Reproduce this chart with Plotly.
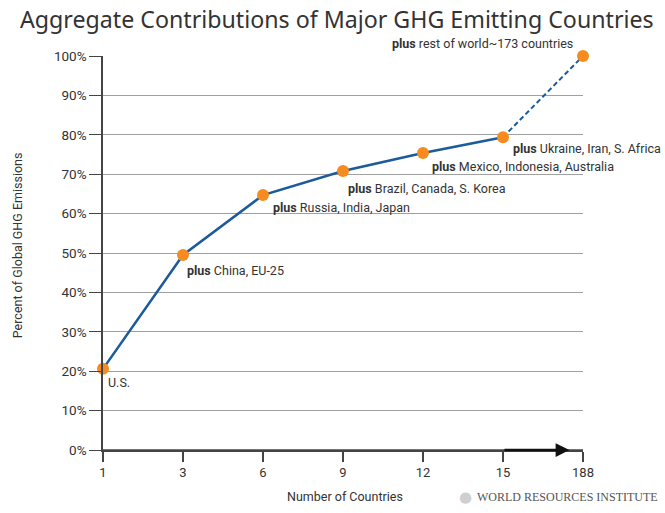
import plotly.graph_objects as go

countries = ["1", "3", "6", "9", "12", "15", "188"]
share = [20.6, 49.5, 64.7, 70.8, 75.4, 79.4, 100.0]
labels = ["U.S.", "<b>plus</b> China, EU-25", "<b>plus</b> Russia, India, Japan",
          "<b>plus</b> Brazil, Canada, S. Korea", "<b>plus</b> Mexico, Indonesia, Australia",
          "<b>plus</b> Ukraine, Iran, S. Africa", "<b>plus</b> rest of world~173 countries"]
y_ticks = [0, 10, 20, 30, 40, 50, 60, 70, 80, 90, 100]

NARROW = "Roboto, sans-serif"
TXT = "#333333"
BLUE = "#1b5b9b"
ORANGE = "#f68b1f"

fig = go.Figure()
fig.add_trace(go.Scatter(x=countries[:6], y=share[:6], mode="lines",
                         line=dict(color=BLUE, width=2.5), hoverinfo="skip", cliponaxis=False))
fig.add_trace(go.Scatter(x=countries[5:], y=share[5:], mode="lines",
                         line=dict(color=BLUE, width=2, dash="5px,3px"), hoverinfo="skip", cliponaxis=False))
fig.add_trace(go.Scatter(x=countries, y=share, mode="markers",
                         marker=dict(color=ORANGE, size=12), cliponaxis=False))

# label offsets (px): xanchor, yanchor, xshift, yshift
offs = [("left", "top", 3, -4), ("left", "top", 2, -6), ("left", "top", 8, -3),
        ("left", "top", 3, -8), ("left", "top", 7, -4), ("left", "top", 8, -2),
        ("right", "bottom", -8, 3)]
for i, (v, t, (xa, ya, xs, ys)) in enumerate(zip(share, labels, offs)):
    fig.add_annotation(x=i, y=v, text=t, showarrow=False, xanchor=xa, yanchor=ya,
                       xshift=xs, yshift=ys, font=dict(family=NARROW, size=12.5, color=TXT))

# arrow along x-axis
fig.add_annotation(x=5.83, y=0, ax=5.0, ay=0, axref="x", ayref="y", xref="x", yref="y",
                   text="", showarrow=True, arrowhead=2, arrowsize=1.1, arrowwidth=2.5,
                   arrowcolor="#111111")

fig.add_annotation(text="Aggregate Contributions of Major GHG Emitting Countries",
                   xref="paper", yref="paper", x=-0.177, y=1.093, xanchor="left", yanchor="middle",
                   showarrow=False, font=dict(family="Noto Sans, sans-serif", size=23.2, color=TXT))

fig.add_annotation(text="Percent of Global GHG Emissions", textangle=-90,
                   xref="paper", yref="paper", x=-0.179, y=0.52, xanchor="center", yanchor="middle",
                   showarrow=False, font=dict(family=NARROW, size=12.5, color=TXT))
fig.add_annotation(text="Number of Countries",
                   xref="paper", yref="paper", x=0.504, y=-0.119, xanchor="center", yanchor="middle",
                   showarrow=False, font=dict(family=NARROW, size=12.5, color=TXT))

fig.add_annotation(text="●", xref="paper", yref="paper", x=0.755, y=-0.119,
                   xanchor="center", yanchor="middle", showarrow=False,
                   font=dict(family="DejaVu Sans", size=15, color="#cfcfcf"))
fig.add_annotation(text="WORLD RESOURCES INSTITUTE", xref="paper", yref="paper", x=0.775, y=-0.12,
                   xanchor="left", yanchor="middle", showarrow=False,
                   font=dict(family="Liberation Serif, serif", size=12, color="#555555"))

fig.update_layout(
    width=665, height=513,
    margin=dict(l=103, r=82, t=56, b=63),
    paper_bgcolor="white", plot_bgcolor="white",
    showlegend=False,
    xaxis=dict(type="category", range=[0, 6], showgrid=False, zeroline=False, automargin=False,
               showline=True, linecolor="#444444", linewidth=1.5,
               ticks="outside", ticklen=10, tickcolor="#444444", tickwidth=1.5,
               tickfont=dict(family=NARROW, size=13, color=TXT)),
    yaxis=dict(range=[0, 100], tickvals=y_ticks, ticktext=[f"{v}%" for v in y_ticks],
               showgrid=True, gridcolor="#a0a0a0", gridwidth=1, zeroline=False, automargin=False,
               showline=True, linecolor="#444444", linewidth=1.5,
               ticks="outside", ticklen=12, tickcolor="#444444", tickwidth=1,
               tickfont=dict(family=NARROW, size=13.5, color=TXT)),
)
fig.add_hline(y=0, line=dict(color="#444444", width=1.5))

fig.write_html("out.html", config={"displayModeBar": False},
               post_script="document.body.style.margin='0';document.body.style.overflow='hidden';")
